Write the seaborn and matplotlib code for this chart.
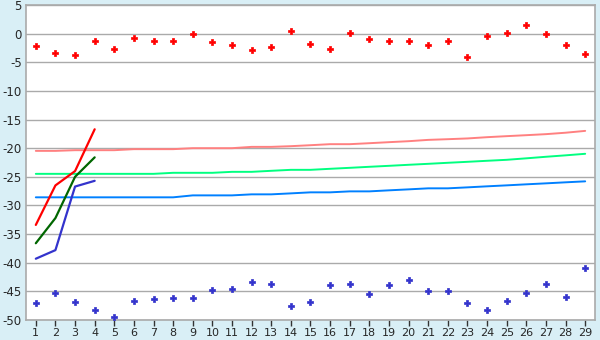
import matplotlib
matplotlib.use("Agg")
import matplotlib.pyplot as plt
import seaborn as sns
import pandas as pd
import numpy as np
from matplotlib.ticker import FuncFormatter

days = list(range(1, 30))

red_points = [-2.2, -3.45, -3.8, -1.35, -2.75, -0.83, -1.35, -1.35, -0.13,
              -1.53, -2.05, -2.92, -2.4, 0.4, -1.87, -2.75, 0.05, -1.0, -1.35,
              -1.35, -2.05, -1.35, -4.15, -0.48, 0.05, 1.45, -0.13, -2.05, -3.6]
blue_points = [-47.1, -45.35, -46.9, -48.3, -49.4, -46.75, -46.4, -46.2, -46.2,
               -44.8, -44.5, -43.4, -43.8, -47.6, -46.9, -43.95, -43.8, -45.5, -43.95,
               -43.1, -45.0, -45.0, -47.1, -48.3, -46.75, -45.35, -43.8, -46.05, -41.0]

early_days = [1, 2, 3, 4]
red_line = [-33.4, -26.5, -24.0, -16.7]
green_line = [-36.6, -32.2, -25.0, -21.6]
blue_line = [-39.3, -37.8, -26.7, -25.7]

pink_trend = [-20.47, -20.47, -20.35, -20.35, -20.35, -20.17, -20.17, -20.17, -20.0,
              -20.0, -20.0, -19.77, -19.77, -19.65, -19.48, -19.3, -19.3, -19.13, -18.95,
              -18.78, -18.55, -18.43, -18.3, -18.08, -17.9, -17.73, -17.55, -17.3, -16.98]
green_trend = [-24.48, -24.48, -24.48, -24.48, -24.48, -24.48, -24.48, -24.3, -24.3,
               -24.3, -24.13, -24.13, -23.95, -23.78, -23.78, -23.6, -23.43, -23.25, -23.08,
               -22.9, -22.73, -22.55, -22.38, -22.2, -22.03, -21.77, -21.5, -21.25, -20.98]
blue_trend = [-28.58, -28.58, -28.58, -28.58, -28.58, -28.58, -28.58, -28.58, -28.24,
              -28.24, -28.24, -28.06, -28.06, -27.89, -27.71, -27.71, -27.54, -27.54, -27.36,
              -27.19, -27.01, -27.01, -26.84, -26.66, -26.49, -26.31, -26.14, -25.96, -25.79]

y_ticks = list(range(-50, 6, 5))

sns.set_style("white")
plt.rcParams['font.family'] = ['DejaVu Sans']

bg = "#D9EFF6"
fig = plt.figure(figsize=(6, 3.4), dpi=100, facecolor=bg)
ax = fig.add_axes([26/600, 1-320/340, (595-26)/600, (320-5)/340])
ax.set_facecolor("white")

trend_df = pd.DataFrame({"day": days, "pink": pink_trend, "green": green_trend, "blue": blue_trend})
sns.lineplot(data=trend_df, x="day", y="pink", color="#FF8080", lw=1.4, ax=ax)
sns.lineplot(data=trend_df, x="day", y="green", color="#00FF80", lw=1.4, ax=ax)
sns.lineplot(data=trend_df, x="day", y="blue", color="#0080FF", lw=1.4, ax=ax)

early_df = pd.DataFrame({"day": early_days, "red": red_line, "green": green_line, "blue": blue_line})
sns.lineplot(data=early_df, x="day", y="red", color="#FF0000", lw=1.6, ax=ax)
sns.lineplot(data=early_df, x="day", y="green", color="#006600", lw=1.6, ax=ax)
sns.lineplot(data=early_df, x="day", y="blue", color="#3333CC", lw=1.6, ax=ax)

pts_df = pd.DataFrame({"day": days, "red": red_points, "blue": blue_points})
sns.scatterplot(data=pts_df, x="day", y="red", color="#FF0000", edgecolor="#FF0000",
                marker="P", s=17, linewidth=0.5, ax=ax, zorder=5)
sns.scatterplot(data=pts_df, x="day", y="blue", color="#3333CC", edgecolor="#3333CC",
                marker="P", s=17, linewidth=0.5, ax=ax, zorder=5)

ax.set_xlim(0.5, 29.5)
ax.set_ylim(-50, 5)
ax.set_xticks(days)
ax.set_xticklabels([str(d) for d in days])
ax.set_yticks(y_ticks)
ax.yaxis.set_major_formatter(FuncFormatter(lambda v, p: str(int(v)).replace("\u2212", "-")))
ax.set_xlabel("")
ax.set_ylabel("")
ax.grid(axis="y", color="#AAAAAA", lw=1)
ax.grid(axis="x", visible=False)
ax.set_axisbelow(True)
for s in ax.spines.values():
    s.set_visible(True)
    s.set_color("#AAAAAA")
    s.set_linewidth(1.2)
ax.tick_params(axis="x", direction="out", length=4, width=1, color="#333333",
               labelsize=8, pad=2, bottom=True)
ax.tick_params(axis="y", length=0, labelsize=8.5, pad=3, left=False)

fig.savefig("out.png", dpi=100, facecolor=bg)
